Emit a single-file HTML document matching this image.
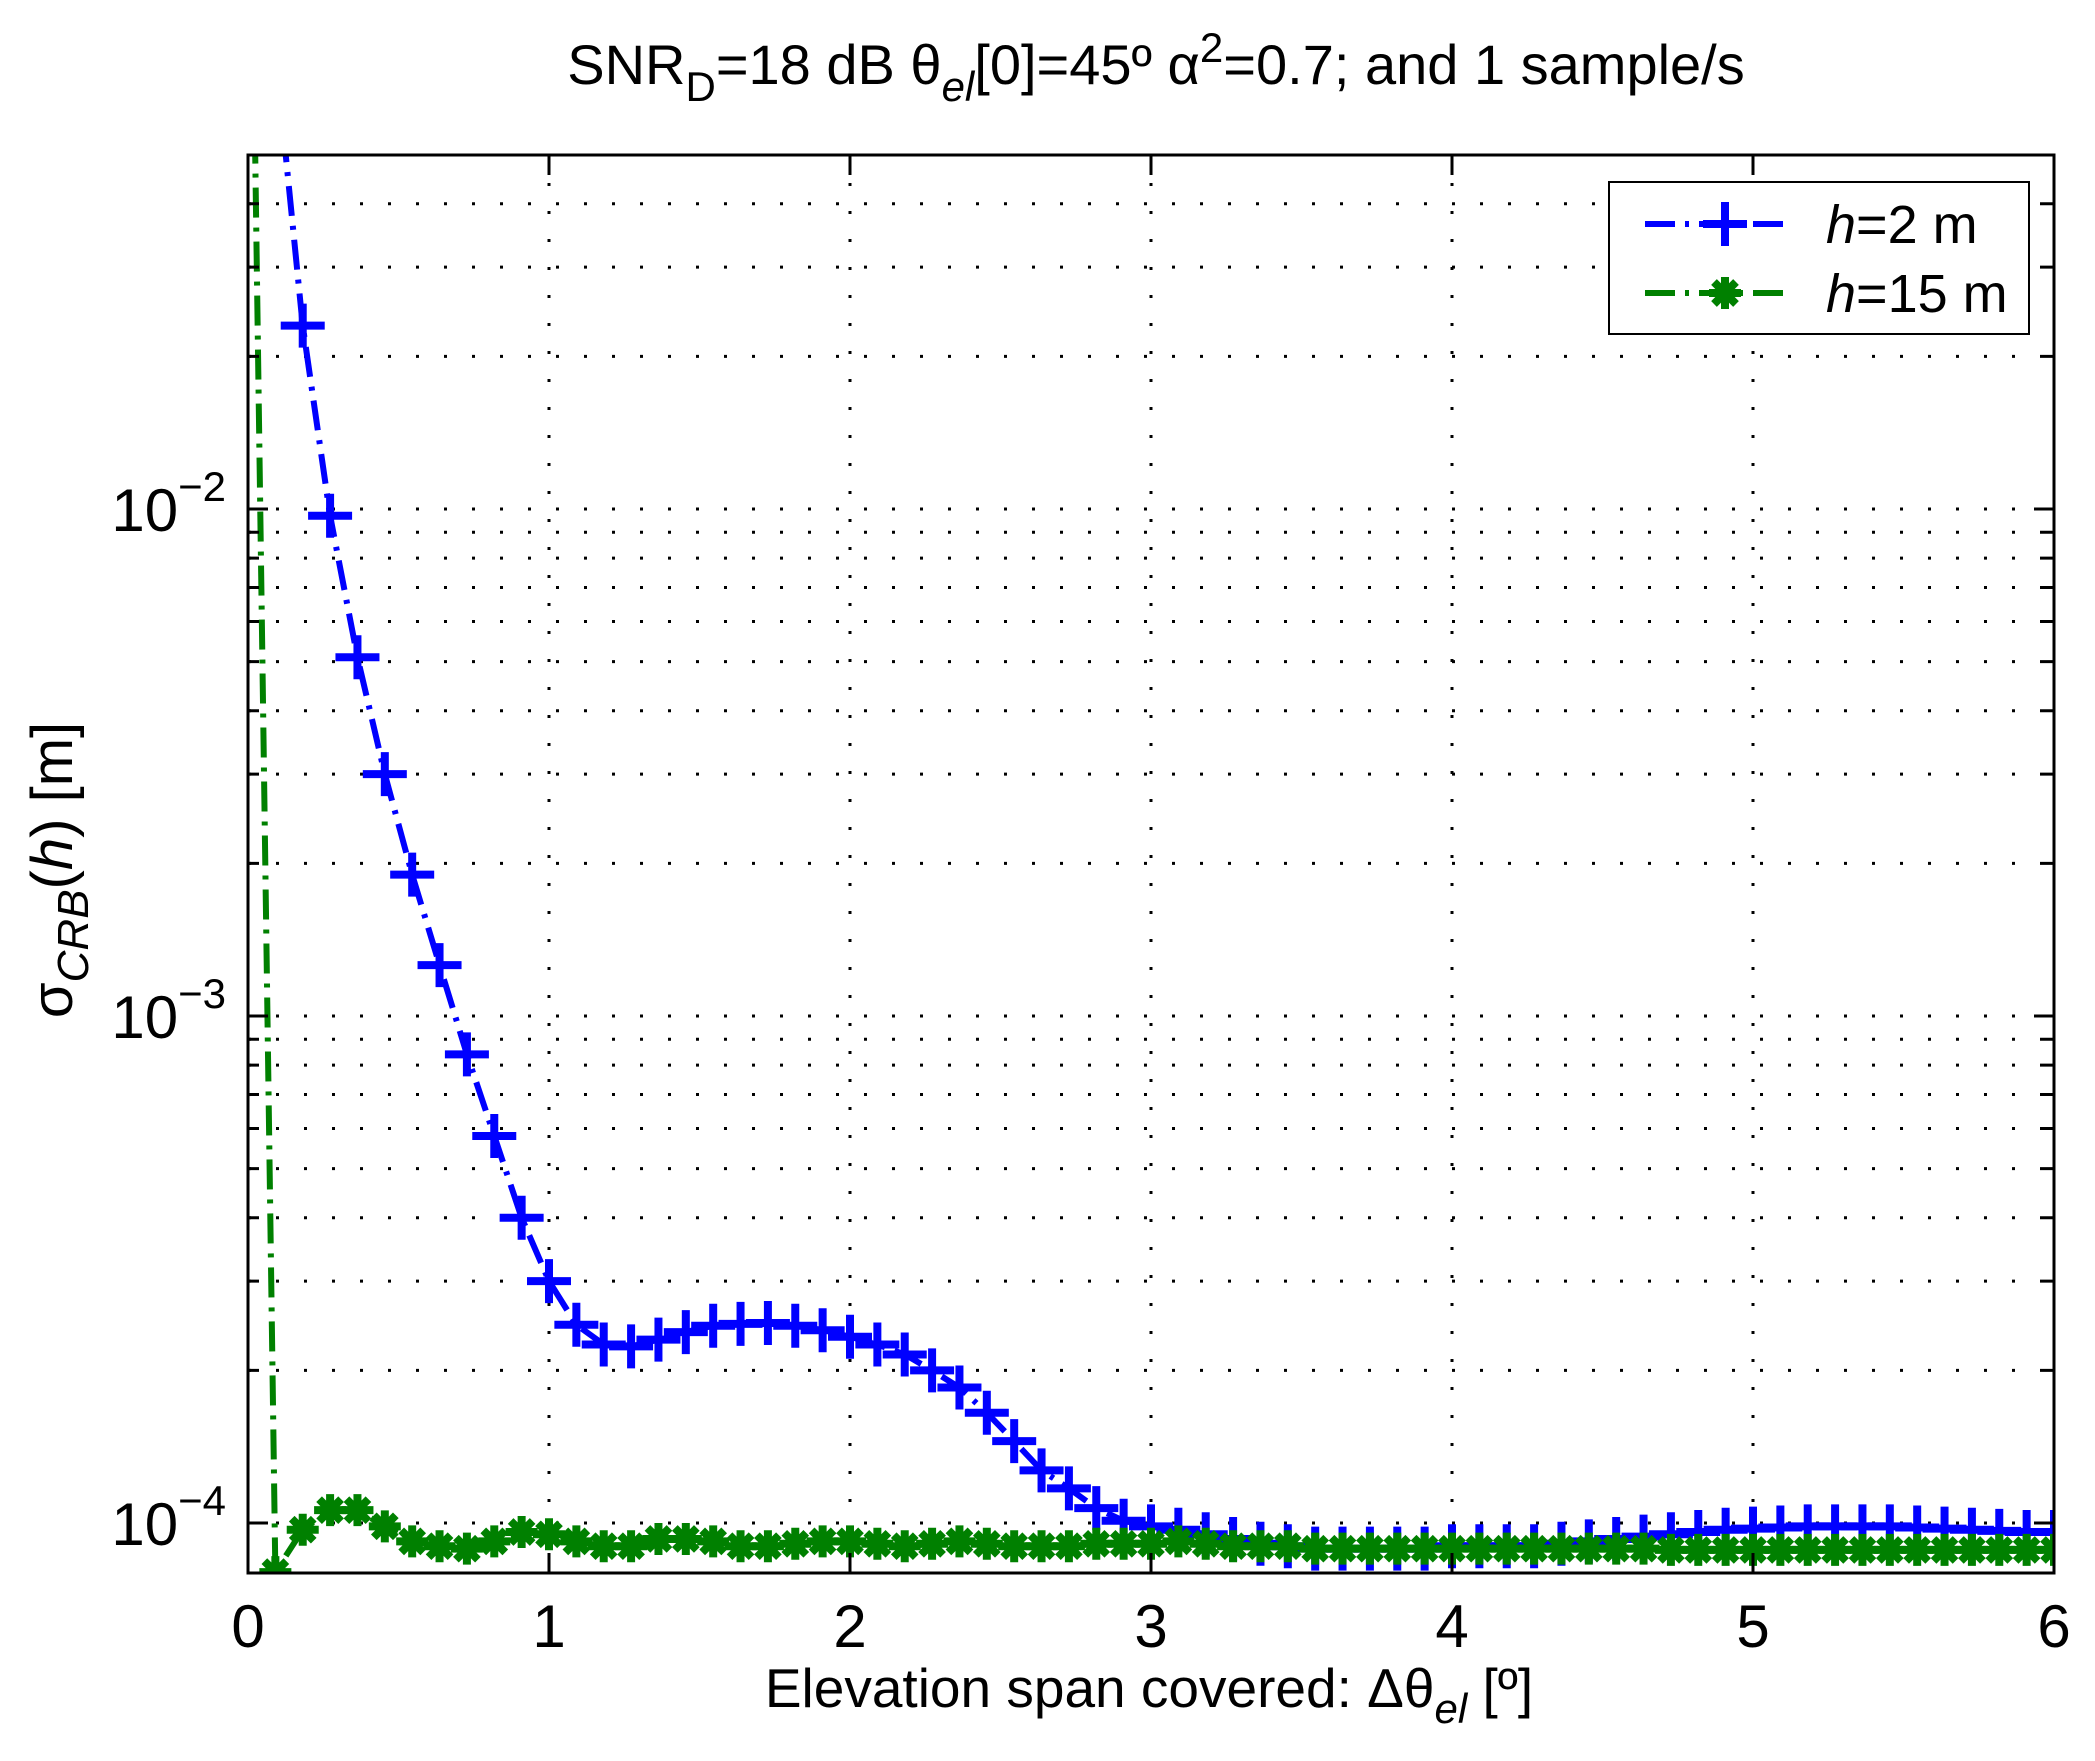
<!DOCTYPE html>
<html><head><meta charset="utf-8"><style>
html,body{margin:0;padding:0;background:#fff;}
svg{display:block;font-family:"Liberation Sans",sans-serif;}
</style></head><body>
<svg id="chart" width="2095" height="1761" viewBox="0 0 2095 1761" xmlns="http://www.w3.org/2000/svg">
<rect width="2095" height="1761" fill="#fff"/>
<defs><clipPath id="clip"><rect x="248" y="155" width="1806" height="1418"/></clipPath></defs>
<text x="1156" y="84" font-size="56" text-anchor="middle">SNR<tspan font-size="42" dy="17">D</tspan><tspan dy="-17">=18 dB θ</tspan><tspan font-size="42" dy="17" font-style="italic">el</tspan><tspan dy="-17">[0]=45º α</tspan><tspan font-size="42" dy="-22">2</tspan><tspan dy="22">=0.7; and 1 sample/s</tspan></text>
<g id="grid"></g>
<g id="series" clip-path="url(#clip)"></g>
<rect x="248" y="155" width="1806" height="1418" fill="none" stroke="#000" stroke-width="3"/>
<g id="ticks"></g>
<text x="1149" y="1707" font-size="55" text-anchor="middle">Elevation span covered: Δθ<tspan font-size="42" dy="16" font-style="italic">el</tspan><tspan dy="-16"> [º]</tspan></text>
<text transform="translate(72,870) rotate(-90)" font-size="58" text-anchor="middle">σ<tspan font-size="44" dy="16" font-style="italic">CRB</tspan><tspan dy="-16">(</tspan><tspan font-style="italic">h</tspan>) [m]</text>
<g>
<rect x="1609" y="182" width="420" height="152" fill="#fff" stroke="#000" stroke-width="2"/>
<g>
<line x1="1645" y1="224" x2="1790" y2="224" stroke="#0000ff" stroke-width="6" stroke-dasharray="30,10,4,10"/>
<path d="M1703 224 H1747 M1725 202 V246" stroke="#0000ff" stroke-width="8"/>
<text x="1826" y="243" font-size="54"><tspan font-style="italic">h</tspan>=2 m</text>
</g>
<g>
<line x1="1645" y1="293" x2="1790" y2="293" stroke="#008000" stroke-width="6" stroke-dasharray="30,10,4,10"/>
<path d="M1709 293 H1741 M1725 277 V309 M1714 282 L1736 304 M1736 282 L1714 304" stroke="#008000" stroke-width="8"/>
<text x="1826" y="312" font-size="54"><tspan font-style="italic">h</tspan>=15 m</text>
</g>
</g>
</svg>
<script>
const xTicks = [0,1,2,3,4,5,6];
const yDecades = [-4,-3,-2];
const blueVals = [0.5,0.08,0.023,0.0097,0.0051,0.0030,0.0019,0.00126,0.00084,0.00058,0.00040,0.00030,0.000246,0.000225,0.000223,0.00023,0.000238,0.000245,0.000247,0.000248,0.000245,0.00024,0.000233,0.000225,0.000215,0.0002,0.000185,0.000165,0.000145,0.000127,0.000117,0.000107,0.000101,0.0000985,0.000097,0.000095,0.000093,0.000091,0.00009,0.000089,0.000089,0.000089,0.000089,0.000089,0.00009,0.00009,0.00009,0.00009,0.000091,0.000092,0.000093,0.000094,0.000095,0.000096,0.000097,0.0000975,0.000098,0.0000985,0.0000985,0.0000985,0.0000985,0.000098,0.0000975,0.000097,0.0000965,0.000096,0.000096];
const greenVals = [0.5,0.000080,0.000097,0.000106,0.000106,0.0000985,0.000092,0.000090,0.000089,0.000092,0.000096,0.000095,0.000092,0.000090,0.000090,0.000093,0.000093,0.000092,0.000090,0.000090,0.000091,0.000092,0.000092,0.000091,0.000090,0.000091,0.000092,0.000091,0.000090,0.000090,0.000090,0.000091,0.000091,0.000091,0.000092,0.000091,0.000090,0.000090,0.000090,0.000089,0.000089,0.000089,0.000089,0.000089,0.000089,0.000089,0.000089,0.000089,0.000089,0.000089,0.000089,0.000089,0.0000885,0.0000885,0.0000885,0.0000885,0.0000885,0.0000885,0.0000885,0.0000885,0.0000885,0.0000885,0.0000885,0.0000885,0.0000885,0.0000885,0.0000885];
const xStep = 6/66;
const NS='http://www.w3.org/2000/svg';
const X0=248,X1=2054,Y10m4=1523,DEC=507,YT=155,YB=1573;
function xs(v){return X0+(v/6)*(X1-X0);}
function ys(v){return Y10m4-(Math.log10(v)+4)*DEC;}
function mk(tag,attrs,parent){const e=document.createElementNS(NS,tag);for(const k in attrs)e.setAttribute(k,attrs[k]);parent.appendChild(e);return e;}
const grid=document.getElementById('grid'),ticks=document.getElementById('ticks'),ser=document.getElementById('series');
xTicks.forEach(t=>{
  const x=xs(t);
  if(t>0&&t<6){const g=mk('line',{x1:x,x2:x,y1:YT,y2:YB,stroke:'#000','stroke-width':3,'stroke-dasharray':'3,25'},grid);
  
  }
  const tk=mk('path',{d:`M${x} ${YB} V${YB-20} M${x} ${YT} V${YT+20}`,stroke:'#000','stroke-width':3},ticks);
  
  
  const lb=mk('text',{x:x,y:YB+74,'font-size':60,'text-anchor':'middle'},ticks);lb.textContent=t;
  
  
});
yDecades.forEach(d=>{
  for(let m=1;m<=9;m++){
    const y=ys(m*Math.pow(10,d));
    if(y<YT||y>YB)continue;
    const g=mk('line',{x1:X0,x2:X1,y1:y,y2:y,stroke:'#000','stroke-width':3,'stroke-dasharray':'3,25'},grid);
    
    
    const L=m===1?20:11;
    const tk=mk('path',{d:`M${X0} ${y} H${X0+L} M${X1} ${y} H${X1-L}`,stroke:'#000','stroke-width':3},ticks);
    
    
  }
  for(let m=2;m<=9;m++){const y=ys(m*Math.pow(10,d+1));if(d===-2&&y>=YT){const tk=mk('path',{d:`M${X0} ${y} H${X0+11} M${X1} ${y} H${X1-11}`,stroke:'#000','stroke-width':3},ticks);
    
    }}
  const y=ys(Math.pow(10,d));
  const lb=mk('text',{x:226,y:y+22,'font-size':60,'text-anchor':'end'},ticks);
  
  
  lb.innerHTML=`10<tspan font-size="42" dy="-30">${d<0?'\u2212':''}${Math.abs(d)}</tspan>`;
});
function drawSeries(vals,color,name,marker){
  const pts=vals.map((v,i)=>[xs(i*xStep),ys(v)]);
  const p=mk('polyline',{points:pts.map(q=>q.join(',')).join(' '),fill:'none',stroke:color,'stroke-width':6,'stroke-dasharray':'30,10,4,10'},ser);
  
  
  pts.forEach(([x,y])=>{
    const d=marker==='plus'?`M${x-22} ${y} H${x+22} M${x} ${y-22} V${y+22}`:`M${x-16} ${y} H${x+16} M${x} ${y-16} V${y+16} M${x-11} ${y-11} L${x+11} ${y+11} M${x+11} ${y-11} L${x-11} ${y+11}`;
    const m=mk('path',{d:d,stroke:color,'stroke-width':8},ser);
    
    
  });
}
drawSeries(blueVals,'#0000ff','series-h2','plus');
drawSeries(greenVals,'#008000','series-h15','star');
</script>
</body></html>
